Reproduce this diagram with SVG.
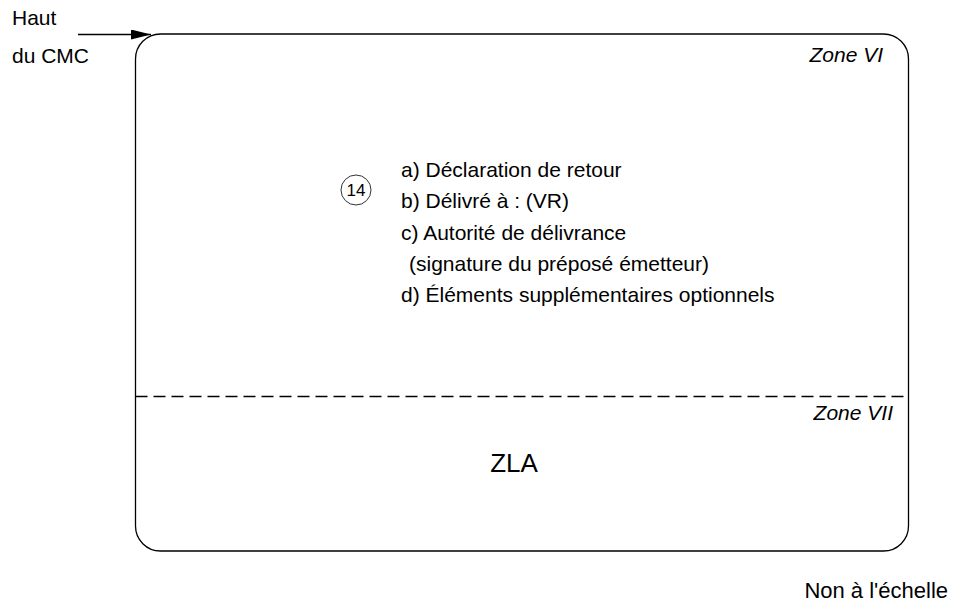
<svg xmlns="http://www.w3.org/2000/svg" width="961" height="612" viewBox="0 0 961 612">
<style>
text{font-family:"Liberation Sans",Arial,sans-serif;fill:#000}
.t{font-size:21px}
.i{font-size:21px;font-style:italic}
.ln{fill:none;stroke:#000;stroke-width:1.3}
</style>
<defs>
<marker id="ah" viewBox="0 0 20 10" refX="20" refY="5" markerWidth="20" markerHeight="10" markerUnits="userSpaceOnUse" orient="auto">
<path d="M0,0 L20,5 L0,10 Z" fill="#000"/>
</marker>
</defs>
<rect width="961" height="612" fill="#fff"/>
<g id="card">
<rect class="ln" x="135.5" y="34" width="773" height="517" rx="25" ry="25"/>
<line class="ln" x1="135.5" y1="396.5" x2="908.5" y2="396.5" stroke-dasharray="12,6"/>
</g>
<g id="labels-top">
<text class="t" x="12" y="25">Haut</text>
<text class="t" x="12" y="63">du CMC</text>
</g>
<g id="connectors">
<line class="ln" x1="78" y1="34.5" x2="151" y2="34.5" marker-end="url(#ah)"/>
</g>
<g id="zone6">
<text class="i" x="883" y="62" text-anchor="end">Zone VI</text>
<circle cx="356" cy="190" r="15" fill="none" stroke="#333" stroke-width="1"/>
<text x="356" y="196" text-anchor="middle" style="font-size:17px">14</text>
<text class="t" x="401" y="177">a) Déclaration de retour</text>
<text class="t" x="401" y="208">b) Délivré à : (VR)</text>
<text class="t" x="401" y="240">c) Autorité de délivrance</text>
<text class="t" x="409" y="271">(signature du préposé émetteur)</text>
<text class="t" x="401" y="302">d) Éléments supplémentaires optionnels</text>
</g>
<g id="zone7">
<text class="i" x="893" y="420" text-anchor="end">Zone VII</text>
<text x="514" y="472" text-anchor="middle" style="font-size:26px">ZLA</text>
</g>
<text x="948" y="598" text-anchor="end" style="font-size:22px">Non à l'échelle</text>
</svg>
